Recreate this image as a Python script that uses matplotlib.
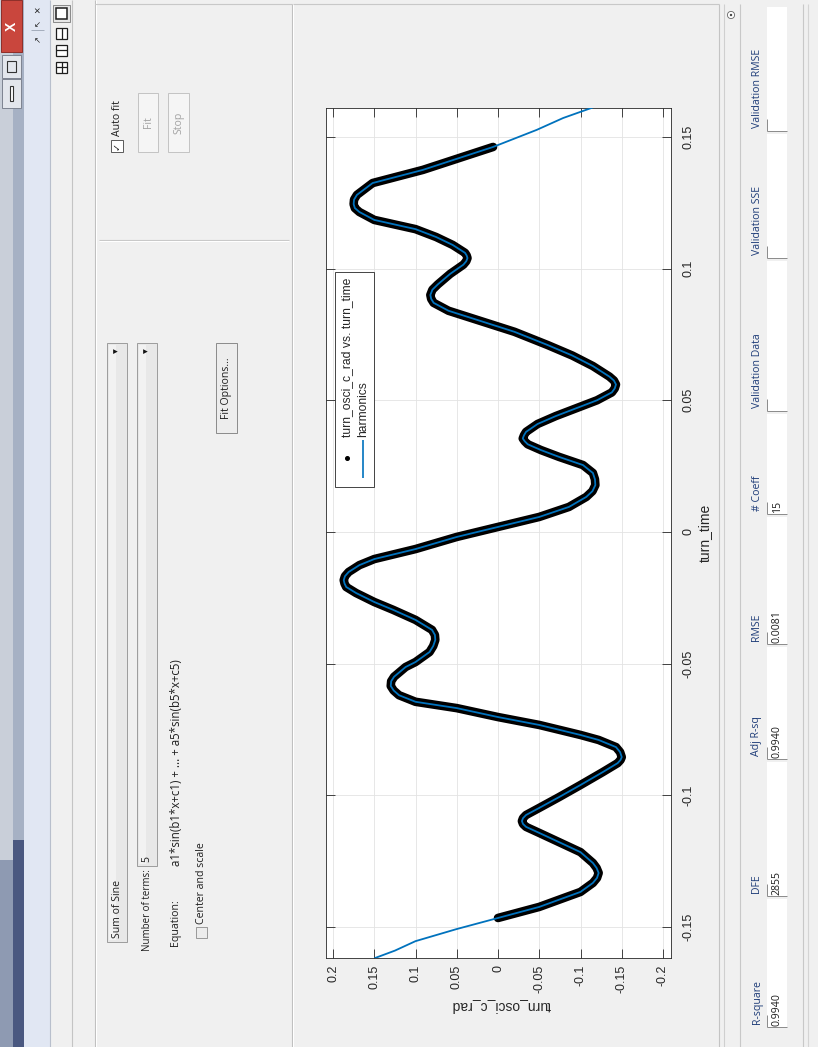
import numpy as np
import matplotlib.pyplot as plt
from matplotlib.patches import Rectangle, Circle

# ----------------------------
# Canvas (screenshot is rotated 90 deg counter-clockwise)
# ----------------------------
W, H = 818, 1047
GUI_FONT = ["Open Sans", "DejaVu Sans"]
AX_FONT = ["Liberation Sans", "DejaVu Sans"]

# ----------------------------
# Data
# ----------------------------
# fitted curve "harmonics": turn_time -> turn_osci_c_rad
turn_time = np.array([
    -0.1618, -0.1590, -0.1554, -0.1508, -0.1466, -0.1424, -0.1367, -0.1333,
    -0.1314, -0.1295, -0.1276, -0.1257, -0.1216, -0.1178, -0.1143, -0.1120,
    -0.1109, -0.1098, -0.1087, -0.1075, -0.1048, -0.1007, -0.0961, -0.0912,
    -0.0878, -0.0866, -0.0855, -0.0836, -0.0817, -0.0790, -0.0771, -0.0733,
    -0.0703, -0.0669, -0.0645, -0.0620, -0.0602, -0.0585, -0.0567, -0.0550,
    -0.0513, -0.0494, -0.0456, -0.0433, -0.0410, -0.0391, -0.0372, -0.0334,
    -0.0296, -0.0266, -0.0232, -0.0209, -0.0196, -0.0183, -0.0168, -0.0152,
    -0.0126, -0.0103, -0.0065, -0.0019, 0.0019, 0.0057, 0.0095, 0.0133,
    0.0155, 0.0178, 0.0200, 0.0224, 0.0254, 0.0285, 0.0311, 0.0333,
    0.0344, 0.0355, 0.0367, 0.0380, 0.0410, 0.0440, 0.0470, 0.0500,
    0.0530, 0.0545, 0.0560, 0.0575, 0.0590, 0.0630, 0.0670, 0.0710,
    0.0760, 0.0800, 0.0840, 0.0870, 0.0885, 0.0900, 0.0920, 0.0940,
    0.0980, 0.1015, 0.1028, 0.1040, 0.1050, 0.1060, 0.1090, 0.1120,
    0.1150, 0.1185, 0.1215, 0.1230, 0.1245, 0.1262, 0.1280, 0.1325,
    0.1375, 0.1462, 0.1527, 0.1572, 0.1611,
])
harmonics = np.array([
    0.149, 0.125, 0.100, 0.050, 0.000, -0.050, -0.100, -0.115,
    -0.1200, -0.122, -0.1195, -0.115, -0.100, -0.074, -0.050, -0.034,
    -0.0303, -0.029, -0.0303, -0.034, -0.050, -0.074, -0.100, -0.127,
    -0.145, -0.1485, -0.150, -0.1480, -0.143, -0.122, -0.100, -0.050,
    0.000, 0.050, 0.100, 0.120, 0.1265, 0.130, 0.1295, 0.126,
    0.112, 0.100, 0.083, 0.0785, 0.076, 0.0765, 0.080, 0.100,
    0.127, 0.150, 0.172, 0.184, 0.1860, 0.187, 0.1855, 0.181,
    0.168, 0.150, 0.100, 0.050, 0.000, -0.050, -0.086, -0.107,
    -0.1145, -0.118, -0.1175, -0.115, -0.103, -0.074, -0.052, -0.036,
    -0.0325, -0.030, -0.0315, -0.034, -0.048, -0.070, -0.095, -0.120,
    -0.138, -0.1415, -0.143, -0.1405, -0.135, -0.115, -0.090, -0.060,
    -0.020, 0.020, 0.060, 0.078, 0.0810, 0.082, 0.0795, 0.073,
    0.058, 0.042, 0.0385, 0.037, 0.0380, 0.040, 0.055, 0.075,
    0.100, 0.150, 0.168, 0.1735, 0.175, 0.1745, 0.171, 0.152,
    0.091, 0.006, -0.047, -0.079, -0.114,
])
# the measured samples cover this turn_time span
data_t_min, data_t_max = -0.1466, 0.1462

v_ticks = [-0.2, -0.15, -0.1, -0.05, 0, 0.05, 0.1, 0.15, 0.2]
v_tick_labels = ["-0.2", "-0.15", "-0.1", "-0.05", "0", "0.05", "0.1", "0.15", "0.2"]
t_ticks = [-0.15, -0.1, -0.05, 0, 0.05, 0.1, 0.15]
t_tick_labels = ["-0.15", "-0.1", "-0.05", "0", "0.05", "0.1", "0.15"]

stat_headers = ["R-square", "DFE", "Adj R-sq", "RMSE", "# Coeff",
                "Validation Data", "Validation SSE", "Validation RMSE"]
stat_values = ["0.9940", "2855", "0.9940", "0.0081", "15", "", "", ""]
stat_edges = [1027, 896, 759, 644, 514, 411, 258, 131, 4]


# ----------------------------
# Helpers (coords are screenshot pixels, y downwards)
# ----------------------------
def box(a, x0, y0, x1, y1, fc, ec="none", lw=0.7, z=1):
    a.add_patch(Rectangle((x0, y0), x1 - x0, y1 - y0, facecolor=fc,
                          edgecolor=ec, linewidth=lw, zorder=z))


def seg(a, xs, ys, c, lw=0.8, z=2):
    a.plot(xs, ys, color=c, lw=lw, zorder=z, solid_capstyle="butt")


def vtext(a, x, y, s, va="bottom", size=7.6, color="#1e1e1e", family=None, **kw):
    a.text(x, y, s, rotation=90, ha="center", va=va, fontsize=size, color=color,
           family=family or GUI_FONT, zorder=5, **kw)


fig = plt.figure(figsize=(W / 100, H / 100), dpi=100)
fig.patch.set_facecolor("#f0f0f0")

bg = fig.add_axes([0, 0, 1, 1])
bg.set_xlim(0, W)
bg.set_ylim(H, 0)
bg.axis("off")

# ---- window title bar (left strip)
box(bg, 0, 0, 13, H, "#c9cfd9")
box(bg, 13, 0, 24, H, "#a6b1c4")
box(bg, 0, 860, 13, H, "#8e9ab2")
box(bg, 13, 840, 24, H, "#4a5880")
box(bg, 1, 0, 22, 52, "#c9463d", ec="#8e2e28")
vtext(bg, 11.5, 26, "X", va="center", size=10, color="white", family=AX_FONT, weight="bold")
box(bg, 2, 55, 21, 78, "#e3e6ec", ec="#7d8390")
box(bg, 7, 61, 16, 72, "none", ec="#333333", lw=0.8)
box(bg, 2, 79, 21, 108, "#e3e6ec", ec="#7d8390")
box(bg, 10, 86, 13, 101, "white", ec="#333333", lw=0.8)

# ---- dock strip
box(bg, 24, 0, 50, H, "#e1e7f3")
seg(bg, [50, 50], [0, H], "#b8bfcc")
vtext(bg, 37, 10, "\u00d7", va="center", size=8, color="#222222", family=AX_FONT)
vtext(bg, 37, 22, "\u2196", va="center", size=6, color="#222222", family=["DejaVu Sans"])
seg(bg, [31, 44], [30, 30], "#9aa3b3", lw=0.6)
vtext(bg, 37, 38, "\u2197", va="center", size=6, color="#222222", family=["DejaVu Sans"])

# ---- layout toolbar
box(bg, 53, 5, 70, 22, "#e6e6e6", ec="#7a7a7a", lw=0.6)
box(bg, 56, 8, 67, 19, "white", ec="#1e1e1e", lw=1.1)
for yc, mode in [(33, "v"), (50, "h"), (67, "b")]:
    box(bg, 56, yc - 5.5, 67, yc + 5.5, "white", ec="#1e1e1e", lw=0.9)
    if mode in ("v", "b"):
        seg(bg, [61.5, 61.5], [yc - 5.5, yc + 5.5], "#1e1e1e", lw=0.9)
    if mode in ("h", "b"):
        seg(bg, [56, 67], [yc, yc], "#1e1e1e", lw=0.9)
seg(bg, [72, 72], [0, H], "#c4c4c4")
seg(bg, [95, 95], [0, H], "#bdbdbd")
seg(bg, [96, 96], [0, H], "white")

# ---- fit settings panel
seg(bg, [95, 292], [4, 4], "#c8c8c8")
seg(bg, [292, 292], [4, H], "#bdbdbd")
seg(bg, [293, 293], [4, H], "white")
box(bg, 111, 140, 123, 152, "white", ec="#5a5a5a", lw=0.7)
vtext(bg, 117, 146, "\u2713", va="center", size=7, color="#202020", family=["DejaVu Sans"])
vtext(bg, 117.5, 136, "Auto fit")
box(bg, 138, 93, 158, 152, "#f5f5f5", ec="#c3c3c3")
vtext(bg, 148, 122.5, "Fit", va="center", color="#a3a3a3")
box(bg, 168, 93, 189, 152, "#f5f5f5", ec="#c3c3c3")
vtext(bg, 178.5, 122.5, "Stop", va="center", color="#a3a3a3")
seg(bg, [99, 289], [240, 240], "#c6c6c6")
seg(bg, [99, 289], [241, 241], "white")

box(bg, 107, 343, 127, 942, "#e8e8e8", ec="#9c9c9c")
box(bg, 109, 345, 116, 940, "#f2f2f2")
vtext(bg, 117.5, 938, "Sum of Sine")
vtext(bg, 117, 351, "\u25bc", va="center", size=4.5, color="#111111", family=["DejaVu Sans"])
box(bg, 137, 343, 157, 866, "#e8e8e8", ec="#9c9c9c")
box(bg, 139, 345, 146, 864, "#f2f2f2")
vtext(bg, 147, 862, "5")
vtext(bg, 147, 351, "\u25bc", va="center", size=4.5, color="#111111", family=["DejaVu Sans"])
vtext(bg, 147.5, 951, "Number of terms:", size=7.0)
vtext(bg, 176, 946, "Equation:")
vtext(bg, 176, 866, "a1*sin(b1*x+c1) + ... + a5*sin(b5*x+c5)", size=8.3)
box(bg, 196, 927, 207, 938, "#ececec", ec="#8c8c8c", lw=0.6)
vtext(bg, 202, 924, "Center and scale")
box(bg, 216, 343, 237, 433, "#ededed", ec="#8a8a8a")
vtext(bg, 226.5, 388, "Fit Options...", va="center")

# ---- plot panel + results table
seg(bg, [293, 719], [4, 4], "#c8c8c8")
seg(bg, [719, 719], [4, H], "#c4c4c4")
seg(bg, [724, 724], [4, H], "#cfcfcf")
seg(bg, [740, 740], [4, H], "#c8c8c8")
seg(bg, [803, 803], [4, H], "#c8c8c8")
seg(bg, [808, 808], [4, H], "#d4d4d4")
bg.add_patch(Circle((731, 15), 3.6, facecolor="white", edgecolor="#666666", lw=0.6, zorder=3))
bg.add_patch(Circle((731, 15), 1.2, facecolor="#444444", edgecolor="none", zorder=4))

for i, (hdr, val) in enumerate(zip(stat_headers, stat_values)):
    y0, y1 = stat_edges[i], stat_edges[i + 1]
    box(bg, 767, y1 + 3, 787, y0, "white")
    seg(bg, [767, 787], [y0, y0], "#8a8a8a", lw=0.7)
    seg(bg, [767, 767], [y0, y0 - 12], "#8a8a8a", lw=0.7)
    vtext(bg, 757, y0 - 3, hdr, color="#1e3c78")
    if val:
        vtext(bg, 777.5, y0 - 1, val, color="#1e1e1e")

# ---- axes labels (drawn as screen text)
vtext(bg, 705, 533, "turn_time", va="center", size=10, color="#262626", family=AX_FONT)
bg.text(501, 1006, "turn_osci_c_rad", rotation=180, ha="center", va="center",
        fontsize=10, color="#262626", family=AX_FONT)

# ----------------------------
# Plot axes
# ----------------------------
ax = fig.add_axes([326 / W, 1 - 958 / H, 345 / W, 850 / H])
ax.set_facecolor("white")
mask = (turn_time >= data_t_min) & (turn_time <= data_t_max)
ax.plot(harmonics[mask], turn_time[mask], color="black", lw=6.2,
        solid_joinstyle="round", solid_capstyle="round", zorder=2)
ax.plot(harmonics, turn_time, color="#0072bd", lw=1.3, zorder=3)
ax.set_xlim(0.2085, -0.2097)
ax.set_ylim(-0.1618, 0.161)
ax.set_xticks(v_ticks)
ax.set_xticklabels(v_tick_labels, rotation=90)
ax.set_yticks(t_ticks)
ax.set_yticklabels(t_tick_labels, rotation=90, va="center")
ax.tick_params(direction="in", length=6.5, width=0.6, color="#262626",
               labelsize=9, labelcolor="#262626", top=True, right=True)
ax.tick_params(axis="y", labelleft=False, labelright=True, pad=8)
ax.tick_params(axis="x", pad=5)
for lab in ax.get_xticklabels() + ax.get_yticklabels():
    lab.set_family(AX_FONT)
ax.grid(True, color="#e3e3e3", lw=0.6)
ax.set_axisbelow(True)
for s in ax.spines.values():
    s.set_color("#262626")
    s.set_linewidth(0.6)

# ----------------------------
# Legend (rotated, drawn on top)
# ----------------------------
ov = fig.add_axes([0, 0, 1, 1])
ov.set_xlim(0, W)
ov.set_ylim(H, 0)
ov.axis("off")
ov.patch.set_alpha(0)
box(ov, 335, 272, 374, 487, "white", ec="#262626", lw=0.6, z=4)
ov.plot([346.5], [458], "o", color="black", ms=2.6, zorder=6)
seg(ov, [363, 363], [440, 478], "#0072bd", lw=1.2, z=6)
vtext(ov, 347.5, 437, "turn_osci_c_rad vs. turn_time", size=8.7, color="#262626", family=AX_FONT)
vtext(ov, 363.5, 437, "harmonics", size=8.7, color="#262626", family=AX_FONT)

fig.savefig("out.png", dpi=100, facecolor=fig.get_facecolor())
